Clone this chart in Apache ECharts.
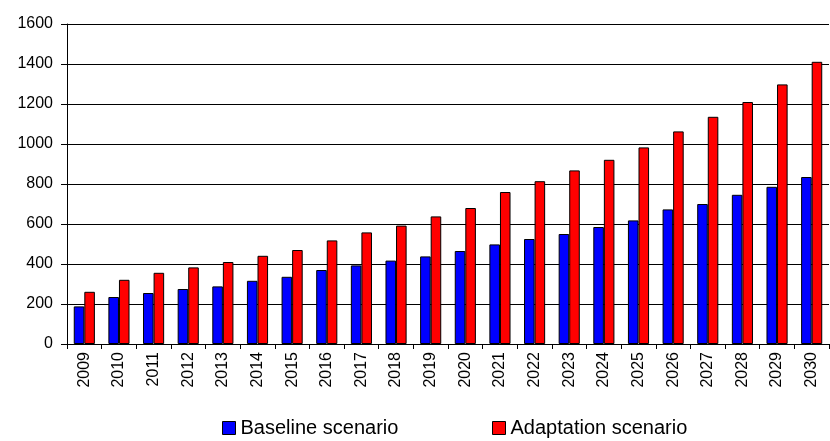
<!DOCTYPE html>
<html>
<head>
<meta charset="utf-8">
<script src="https://cdn.jsdelivr.net/npm/echarts@6/dist/echarts.min.js"></script>
<style>
  html, body { margin: 0; padding: 0; background: #fff; }
  #chart { width: 830px; height: 441px; }
</style>
</head>
<body>
<div id="chart"></div>
<script>
// Years on the category axis
var years = ['2009', '2010', '2011', '2012', '2013', '2014', '2015', '2016', '2017', '2018', '2019',
             '2020', '2021', '2022', '2023', '2024', '2025', '2026', '2027', '2028', '2029', '2030'];

// Scenario values per year
var baseline = [188, 235, 255, 275, 288, 316, 336, 370, 393, 417, 438,
                465, 498, 525, 550, 585, 618, 673, 700, 746, 786, 835];
var adaptation = [261, 321, 356, 383, 410, 441, 470, 518, 558, 592, 638,
                  680, 760, 814, 868, 921, 983, 1063, 1136, 1210, 1298, 1411];

// Value axis ticks
var yMin = 0, yMax = 1600, yStep = 200;

var font = 'Liberation Sans, Arial, sans-serif';

var chart = echarts.init(document.getElementById('chart'), null, { renderer: 'canvas' });

function legendFor(name, left) {
  return {
    data: [name],
    left: left, top: 418, padding: 0,
    icon: 'rect', itemWidth: 13, itemHeight: 13,
    textStyle: { fontFamily: font, fontSize: 20, color: '#000' },
    itemStyle: { borderColor: '#000', borderWidth: 1 }
  };
}

chart.setOption({
  animation: false,
  backgroundColor: '#ffffff',
  grid: { left: 67, right: 1, top: 24, bottom: 97, containLabel: false },
  legend: [
    legendFor('Baseline scenario', 222),
    legendFor('Adaptation scenario', 492)
  ],
  xAxis: {
    type: 'category',
    data: years,
    boundaryGap: true,
    axisLine: { lineStyle: { color: '#000', width: 1 } },
    axisTick: { show: true, length: 5, lineStyle: { color: '#000' } },
    axisLabel: { rotate: 90, margin: 8, fontFamily: font, fontSize: 16, color: '#000' },
    splitLine: { show: false }
  },
  yAxis: {
    type: 'value',
    min: yMin, max: yMax, interval: yStep,
    axisLine: { show: true, lineStyle: { color: '#000', width: 1 } },
    axisTick: { show: true, length: 6, lineStyle: { color: '#000' } },
    axisLabel: {
      margin: 14, fontFamily: font, fontSize: 16, color: '#000',
      formatter: function (v) { return String(v); }
    },
    splitLine: { show: true, lineStyle: { color: '#000', width: 1 } }
  },
  series: [
    {
      name: 'Baseline scenario',
      type: 'bar',
      data: baseline,
      barGap: '0%',
      barCategoryGap: '39%',
      itemStyle: { color: '#0000ff', borderColor: '#000', borderWidth: 1 }
    },
    {
      name: 'Adaptation scenario',
      type: 'bar',
      data: adaptation,
      barGap: '0%',
      barCategoryGap: '39%',
      itemStyle: { color: '#ff0000', borderColor: '#000', borderWidth: 1 }
    }
  ]
});
</script>
</body>
</html>
